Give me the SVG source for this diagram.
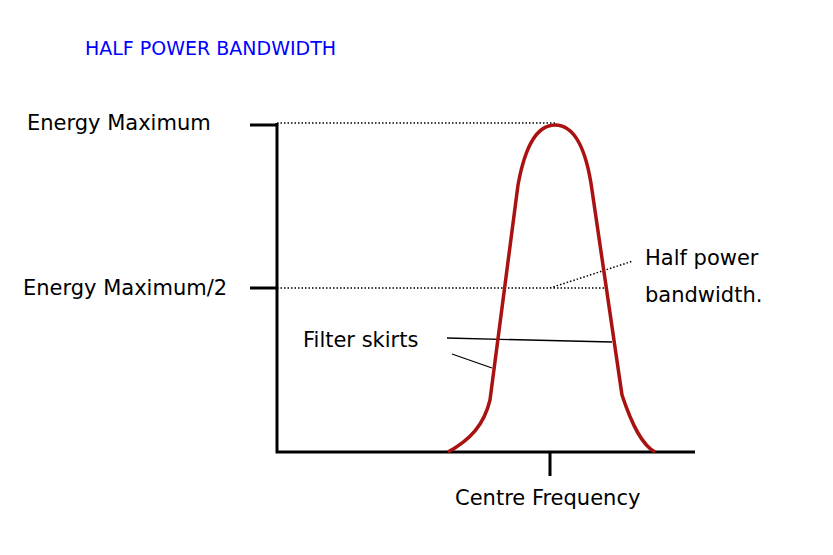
<svg xmlns="http://www.w3.org/2000/svg" width="833" height="555" viewBox="0 0 833 555">
<style>
text{font-family:"DejaVu Sans","Liberation Sans",sans-serif;font-size:21px;fill:#000}
.ax{stroke:#000;stroke-width:3;fill:none}
.dot{stroke:#000;stroke-width:1.5;stroke-dasharray:1.5 2;fill:none}
.thin{stroke:#000;stroke-width:1.3;fill:none}
</style>
<rect width="833" height="555" fill="#fff"/>
<text x="85" y="55" style="fill:#0000ff;font-size:19px">HALF POWER BANDWIDTH</text>
<g id="axes">
<path class="ax" d="M277,123 V452 H695 M250,125 H277 M250,288 H277 M550,452 V476"/>
</g>
<g id="connectors">
<path class="dot" d="M277,123 H555 M277,288 H605 M550,288 L633,261"/>
<path class="thin" d="M447,338 L612,342 M452,354 L492,368"/>
</g>
<g id="curve">
<path d="M448,452 C470,440 484,425 490,400 L518,185 C528,130 545,125 555,125 C570,125 585,140 592,190 L622,395 C632,425 642,445 655,452" fill="none" stroke="#aa1111" stroke-width="3.5"/>
</g>
<g id="labels">
<text x="27" y="130">Energy Maximum</text>
<text x="23" y="295">Energy Maximum/2</text>
<text x="645" y="265">Half power</text>
<text x="645" y="302">bandwidth.</text>
<text x="303" y="347">Filter skirts</text>
<text x="455" y="505">Centre Frequency</text>
</g>
</svg>
